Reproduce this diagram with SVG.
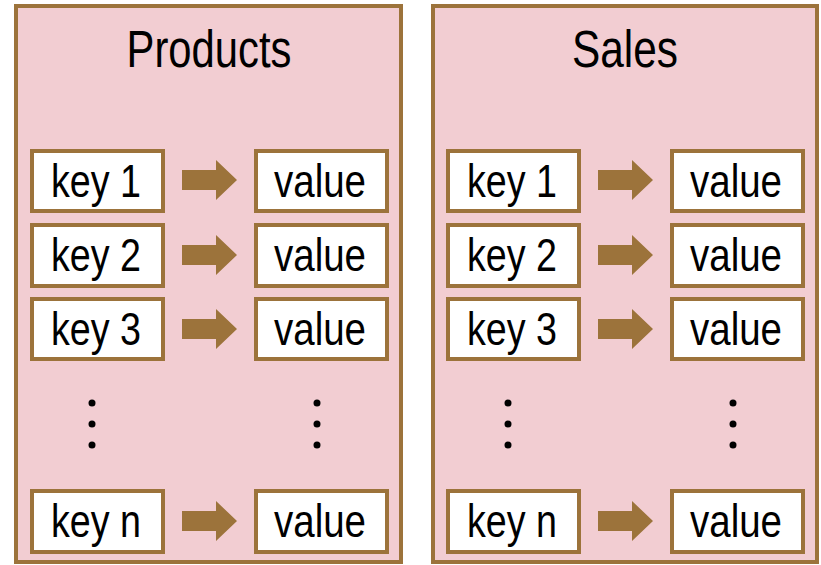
<svg xmlns="http://www.w3.org/2000/svg" width="821" height="565" viewBox="0 0 821 565">
<style>
.panel{fill:#F2CDD2;stroke:#9C733B;stroke-width:4}
.box{fill:#FFFFFF;stroke:#9C733B;stroke-width:4}
.arrow{fill:#9C733B}
.t{font-family:"Liberation Sans",Arial,sans-serif;fill:#000;text-anchor:middle}
.title{font-size:51px}
.lbl{font-size:47px}
.dot{fill:#000}
</style>
<defs>
<path id="arr" d="M0,-10 H34 V-20 L55,0 L34,20 V10 H0 Z"/>
</defs>
<rect width="821" height="565" fill="#FFFFFF"/>
<g id="products">
<rect class="panel" x="16" y="6" width="385" height="556"/>
<text class="t title" x="209" y="67" textLength="165" lengthAdjust="spacingAndGlyphs">Products</text>
</g>
<g id="sales">
<rect class="panel" x="433" y="6" width="384" height="556"/>
<text class="t title" x="625" y="67" textLength="106" lengthAdjust="spacingAndGlyphs">Sales</text>
</g>
<g id="p-key1"><rect class="box" x="32" y="151" width="131" height="60"/><text class="t lbl" x="96" y="197" textLength="90" lengthAdjust="spacingAndGlyphs">key 1</text></g>
<g id="p-val1"><rect class="box" x="256" y="151" width="131" height="60"/><text class="t lbl" x="320" y="197" textLength="92" lengthAdjust="spacingAndGlyphs">value</text></g>
<g id="p-key2"><rect class="box" x="32" y="225" width="131" height="61"/><text class="t lbl" x="96" y="271" textLength="90" lengthAdjust="spacingAndGlyphs">key 2</text></g>
<g id="p-val2"><rect class="box" x="256" y="225" width="131" height="61"/><text class="t lbl" x="320" y="271" textLength="92" lengthAdjust="spacingAndGlyphs">value</text></g>
<g id="p-key3"><rect class="box" x="32" y="299" width="131" height="60"/><text class="t lbl" x="96" y="345" textLength="90" lengthAdjust="spacingAndGlyphs">key 3</text></g>
<g id="p-val3"><rect class="box" x="256" y="299" width="131" height="60"/><text class="t lbl" x="320" y="345" textLength="92" lengthAdjust="spacingAndGlyphs">value</text></g>
<g id="p-keyn"><rect class="box" x="32" y="491" width="131" height="61"/><text class="t lbl" x="96" y="537" textLength="90" lengthAdjust="spacingAndGlyphs">key n</text></g>
<g id="p-valn"><rect class="box" x="256" y="491" width="131" height="61"/><text class="t lbl" x="320" y="537" textLength="92" lengthAdjust="spacingAndGlyphs">value</text></g>
<g id="s-key1"><rect class="box" x="448" y="151" width="131" height="60"/><text class="t lbl" x="512" y="197" textLength="90" lengthAdjust="spacingAndGlyphs">key 1</text></g>
<g id="s-val1"><rect class="box" x="672" y="151" width="131" height="60"/><text class="t lbl" x="736" y="197" textLength="92" lengthAdjust="spacingAndGlyphs">value</text></g>
<g id="s-key2"><rect class="box" x="448" y="225" width="131" height="61"/><text class="t lbl" x="512" y="271" textLength="90" lengthAdjust="spacingAndGlyphs">key 2</text></g>
<g id="s-val2"><rect class="box" x="672" y="225" width="131" height="61"/><text class="t lbl" x="736" y="271" textLength="92" lengthAdjust="spacingAndGlyphs">value</text></g>
<g id="s-key3"><rect class="box" x="448" y="299" width="131" height="60"/><text class="t lbl" x="512" y="345" textLength="90" lengthAdjust="spacingAndGlyphs">key 3</text></g>
<g id="s-val3"><rect class="box" x="672" y="299" width="131" height="60"/><text class="t lbl" x="736" y="345" textLength="92" lengthAdjust="spacingAndGlyphs">value</text></g>
<g id="s-keyn"><rect class="box" x="448" y="491" width="131" height="61"/><text class="t lbl" x="512" y="537" textLength="90" lengthAdjust="spacingAndGlyphs">key n</text></g>
<g id="s-valn"><rect class="box" x="672" y="491" width="131" height="61"/><text class="t lbl" x="736" y="537" textLength="92" lengthAdjust="spacingAndGlyphs">value</text></g>
<g id="dots">
<circle class="dot" cx="92" cy="403" r="3.5"/><circle class="dot" cx="92" cy="424" r="3.5"/><circle class="dot" cx="92" cy="445" r="3.5"/>
<circle class="dot" cx="317" cy="403" r="3.5"/><circle class="dot" cx="317" cy="424" r="3.5"/><circle class="dot" cx="317" cy="445" r="3.5"/>
<circle class="dot" cx="508" cy="403" r="3.5"/><circle class="dot" cx="508" cy="424" r="3.5"/><circle class="dot" cx="508" cy="445" r="3.5"/>
<circle class="dot" cx="733" cy="403" r="3.5"/><circle class="dot" cx="733" cy="424" r="3.5"/><circle class="dot" cx="733" cy="445" r="3.5"/>
</g>
<g id="connectors" class="arrow">
<use href="#arr" x="182" y="180"/>
<use href="#arr" x="182" y="255"/>
<use href="#arr" x="182" y="329"/>
<use href="#arr" x="182" y="521"/>
<use href="#arr" x="598" y="180"/>
<use href="#arr" x="598" y="255"/>
<use href="#arr" x="598" y="329"/>
<use href="#arr" x="598" y="521"/>
</g>
</svg>
